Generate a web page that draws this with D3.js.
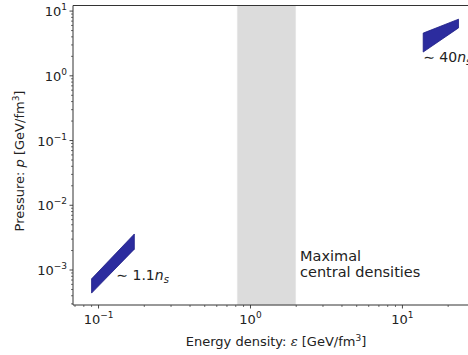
<!DOCTYPE html>
<html>
<head>
<meta charset="utf-8">
<script src="https://cdn.jsdelivr.net/npm/d3@7"></script>
<style>
  body { margin: 0; background: #fff; }
  text { font-family: "DejaVu Sans", sans-serif; fill: #222; }
</style>
</head>
<body>
<div id="chart"></div>
<script>
// band of maximal central densities (energy density, GeV/fm^3)
var centralBand = [0.82, 1.98];

// low density band ~1.1 n_s
var lowEps = [0.090, 0.172],
    lowPMin = [4.4e-4, 2.1e-3],
    lowPMax = [7.3e-4, 3.6e-3];

// high density band ~40 n_s
var highEps = [13.7, 23.4],
    highPMin = [2.33, 5.5],
    highPMax = [4.57, 7.5];

var xTicks = [0.1, 1, 10],
    xTickExp = ["\u22121", "0", "1"];
var yTicks = [10, 1, 0.1, 0.01, 0.001],
    yTickExp = ["1", "0", "\u22121", "\u22122", "\u22123"];

var W = 468, H = 355;
var margin = { top: 5.5, left: 73, bottom: 305, right: 480 };

var svg = d3.select("#chart").append("svg")
    .attr("width", W)
    .attr("height", H);

var x = d3.scaleLog().domain([0.0679, 32.4]).range([margin.left, margin.right]);
var y = d3.scaleLog().domain([2.88e-4, 12.2]).range([margin.bottom, margin.top]);

var plot = svg.append("g");

// grey span
plot.append("rect")
    .attr("x", x(centralBand[0]))
    .attr("y", margin.top)
    .attr("width", x(centralBand[1]) - x(centralBand[0]))
    .attr("height", margin.bottom - margin.top)
    .attr("fill", "#dcdcdc")
    .attr("stroke", "#e6e6e6");

function band(eps, pmin, pmax) {
    var pts = [[eps[0], pmin[0]], [eps[1], pmin[1]], [eps[1], pmax[1]], [eps[0], pmax[0]]];
    plot.append("polygon")
        .attr("points", pts.map(function (d) { return x(d[0]) + "," + y(d[1]); }).join(" "))
        .attr("fill", "#2c2c9e")
        .attr("stroke", "#1d1d85")
        .attr("stroke-width", 0.8);
}
band(lowEps, lowPMin, lowPMax);
band(highEps, highPMin, highPMax);

// spines
svg.append("line").attr("x1", margin.left).attr("x2", W + 10)
    .attr("y1", margin.top).attr("y2", margin.top)
    .attr("stroke", "#333").attr("stroke-width", 1);
svg.append("line").attr("x1", margin.left).attr("x2", W + 10)
    .attr("y1", margin.bottom).attr("y2", margin.bottom)
    .attr("stroke", "#333").attr("stroke-width", 1);
svg.append("line").attr("x1", margin.left).attr("x2", margin.left)
    .attr("y1", margin.top).attr("y2", margin.bottom)
    .attr("stroke", "#333").attr("stroke-width", 1);

// minor ticks
var xMinor = [], yMinor = [];
[0.01, 0.1, 1, 10].forEach(function (dec) {
    for (var k = 2; k <= 9; k++) {
        var v = dec * k;
        if (v > x.domain()[0] && v < x.domain()[1]) xMinor.push(v);
    }
});
[0.0001, 0.001, 0.01, 0.1, 1, 10].forEach(function (dec) {
    for (var k = 2; k <= 9; k++) {
        var v = dec * k;
        if (v > y.domain()[0] && v < y.domain()[1]) yMinor.push(v);
    }
});

svg.selectAll(".xminor").data(xMinor).enter().append("line")
    .attr("x1", function (d) { return x(d); }).attr("x2", function (d) { return x(d); })
    .attr("y1", margin.bottom).attr("y2", margin.bottom + 2)
    .attr("stroke", "#333").attr("stroke-width", 0.7);
svg.selectAll(".yminor").data(yMinor).enter().append("line")
    .attr("y1", function (d) { return y(d); }).attr("y2", function (d) { return y(d); })
    .attr("x1", margin.left).attr("x2", margin.left - 2)
    .attr("stroke", "#333").attr("stroke-width", 0.7);

// major ticks + labels
xTicks.forEach(function (t, i) {
    svg.append("line")
        .attr("x1", x(t)).attr("x2", x(t))
        .attr("y1", margin.bottom).attr("y2", margin.bottom + 3.5)
        .attr("stroke", "#333").attr("stroke-width", 0.9);
    var tx = svg.append("text")
        .attr("x", x(t)).attr("y", margin.bottom + 19)
        .attr("text-anchor", "middle")
        .style("font-size", "13px");
    tx.append("tspan").text("10");
    tx.append("tspan").attr("dy", -6).style("font-size", "9px").text(xTickExp[i]);
});
yTicks.forEach(function (t, i) {
    svg.append("line")
        .attr("y1", y(t)).attr("y2", y(t))
        .attr("x1", margin.left).attr("x2", margin.left - 3.5)
        .attr("stroke", "#333").attr("stroke-width", 0.9);
    var tx = svg.append("text")
        .attr("x", margin.left - 6).attr("y", y(t) + 5)
        .attr("text-anchor", "end")
        .style("font-size", "13px");
    tx.append("tspan").text("10");
    tx.append("tspan").attr("dy", -6).style("font-size", "9px").text(yTickExp[i]);
});

// axis titles
var xl = svg.append("text")
    .attr("x", 276).attr("y", 346)
    .attr("text-anchor", "middle")
    .style("font-size", "13px");
xl.append("tspan").text("Energy density: ");
xl.append("tspan").style("font-family", "DejaVu Serif").style("font-style", "italic").text("\u03b5");
xl.append("tspan").text(" [GeV/fm");
xl.append("tspan").attr("dy", -5).style("font-size", "9px").text("3");
xl.append("tspan").attr("dy", 5).text("]");

var yl = svg.append("text")
    .attr("transform", "translate(24," + 161 + ") rotate(-90)")
    .attr("text-anchor", "middle")
    .style("font-size", "13px");
yl.append("tspan").text("Pressure: ");
yl.append("tspan").style("font-style", "italic").text("p");
yl.append("tspan").text(" [GeV/fm");
yl.append("tspan").attr("dy", -5).style("font-size", "9px").text("3");
yl.append("tspan").attr("dy", 5).text("]");

// annotations
function nsLabel(px, py, num) {
    var t = svg.append("text").attr("x", px).attr("y", py).style("font-size", "14px");
    t.append("tspan").text("\u223c " + num);
    t.append("tspan").style("font-style", "italic").text("n");
    t.append("tspan").attr("dy", 3).style("font-size", "10px").style("font-style", "italic").text("s");
}
nsLabel(x(lowEps[1]) - 18, y(lowPMin[0]) - 13, "1.1");
nsLabel(x(highEps[0]), y(highPMin[0]) + 10, "40");

svg.append("text").attr("x", 300).attr("y", 261).style("font-size", "14.5px").text("Maximal");
svg.append("text").attr("x", 300).attr("y", 277).style("font-size", "14.5px").text("central densities");
</script>
</body>
</html>
